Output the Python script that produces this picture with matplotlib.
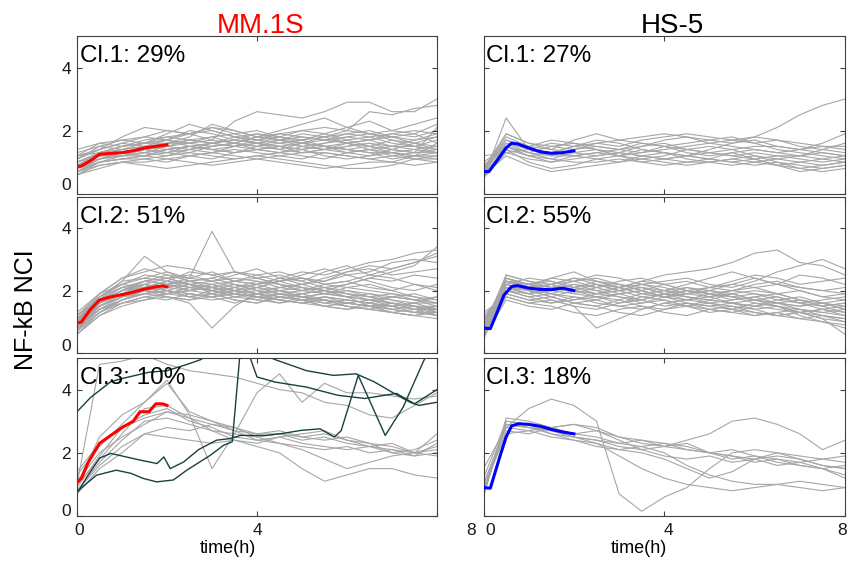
import matplotlib.pyplot as plt
import matplotlib.transforms as mtransforms

plt.rcParams['font.family'] = ['Liberation Sans', 'DejaVu Sans']

# tempo (h) das trajetórias de células individuais
t = [0, 0.5, 1, 1.5, 2, 2.5, 3, 3.5, 4, 4.5, 5, 5.5, 6, 6.5, 7, 7.5, 8]

cell_lines = ['MM.1S', 'HS-5']
mm_pct = ['29%', '51%', '10%']
hs_pct = ['27%', '55%', '18%']

# MM.1S cluster 1
mm_cl1 = [
    [0.8, 1.1, 1.2, 1.3, 1.4, 1.5, 1.6, 1.5, 1.4, 1.5, 1.6, 1.5, 1.4, 1.3, 1.3, 1.2, 1.2],
    [0.7, 1.0, 1.1, 1.2, 1.3, 1.2, 1.3, 1.4, 1.3, 1.2, 1.3, 1.3, 1.2, 1.1, 1.2, 1.1, 1.1],
    [1.4, 1.6, 1.5, 1.7, 1.8, 1.7, 1.6, 1.8, 1.9, 1.7, 1.6, 1.7, 1.8, 1.9, 1.7, 1.6, 1.8],
    [0.9, 1.2, 1.4, 1.5, 1.7, 1.9, 2.0, 1.8, 1.7, 1.8, 2.0, 1.9, 1.7, 1.8, 1.9, 2.0, 1.9],
    [0.6, 0.8, 1.0, 1.0, 1.1, 1.0, 0.9, 1.0, 1.1, 1.0, 0.9, 0.8, 0.9, 1.0, 1.0, 0.9, 1.0],
    [1.0, 1.3, 1.5, 1.6, 1.6, 1.8, 2.2, 2.0, 1.8, 1.7, 1.6, 1.5, 1.6, 1.7, 1.5, 1.4, 1.5],
    [0.8, 1.1, 1.3, 1.5, 1.6, 1.6, 1.7, 2.3, 2.6, 2.5, 2.4, 2.6, 2.9, 2.9, 2.6, 2.6, 3.0],
    [1.2, 1.4, 1.6, 1.5, 1.4, 1.5, 1.6, 1.7, 1.6, 1.4, 1.3, 1.4, 1.5, 1.6, 1.5, 1.5, 1.4],
    [0.7, 0.9, 1.0, 0.9, 0.8, 0.9, 1.0, 1.1, 1.2, 1.1, 1.0, 0.9, 0.8, 0.8, 0.9, 1.1, 1.2],
    [1.1, 1.5, 1.7, 1.8, 2.0, 1.9, 1.7, 1.6, 1.8, 2.0, 2.2, 2.4, 2.1, 1.9, 2.0, 2.2, 2.4],
    [0.9, 1.2, 1.2, 1.3, 1.2, 1.4, 1.5, 1.6, 1.5, 1.7, 1.8, 1.7, 1.6, 1.5, 1.4, 1.3, 1.3],
    [1.3, 1.5, 1.4, 1.6, 1.7, 1.5, 1.4, 1.5, 1.7, 1.9, 2.0, 2.1, 2.0, 2.6, 2.5, 2.7, 2.8],
    [0.8, 1.0, 1.1, 1.1, 1.2, 1.3, 1.2, 1.1, 1.2, 1.3, 1.4, 1.2, 1.1, 1.2, 1.4, 1.6, 1.4],
    [1.0, 1.3, 1.4, 1.5, 1.5, 1.6, 1.8, 1.9, 1.7, 1.6, 1.7, 1.8, 1.9, 1.8, 1.6, 1.5, 1.7],
    [0.6, 0.9, 1.0, 1.1, 1.0, 1.2, 1.3, 1.2, 1.1, 1.2, 1.1, 1.3, 1.2, 1.1, 1.0, 1.2, 1.1],
    [1.1, 1.4, 1.8, 2.1, 2.0, 1.9, 2.1, 2.0, 1.8, 1.9, 1.8, 1.7, 1.9, 2.0, 1.8, 1.7, 1.9],
    [0.9, 1.1, 1.3, 1.4, 1.3, 1.5, 1.4, 1.3, 1.5, 1.6, 1.5, 1.6, 1.7, 1.5, 1.3, 1.2, 1.6],
    [0.7, 1.0, 1.2, 1.2, 1.4, 1.3, 1.5, 1.6, 1.4, 1.3, 1.5, 1.4, 1.3, 1.4, 1.2, 1.3, 2.1],
    [1.2, 1.3, 1.5, 1.6, 1.9, 2.2, 2.0, 1.8, 1.6, 1.5, 1.4, 1.6, 1.8, 1.7, 1.8, 1.9, 1.6],
    [0.8, 1.2, 1.3, 1.4, 1.6, 1.7, 1.6, 1.5, 1.6, 1.8, 1.7, 1.5, 1.4, 1.5, 1.7, 1.5, 1.3],
    [0.9, 1.3, 1.5, 1.6, 1.7, 1.6, 1.5, 1.6, 1.8, 1.7, 1.5, 1.4, 1.5, 1.6, 1.4, 1.3, 1.4],
    [0.7, 1.1, 1.3, 1.4, 1.3, 1.4, 1.6, 1.7, 1.9, 1.8, 1.6, 1.5, 1.3, 1.2, 1.3, 1.4, 1.3],
    [1.0, 1.2, 1.4, 1.3, 1.5, 1.7, 1.8, 1.6, 1.5, 1.4, 1.6, 1.8, 2.0, 1.9, 1.8, 1.6, 1.5],
    [0.6, 1.0, 1.1, 1.2, 1.1, 1.2, 1.1, 1.3, 1.4, 1.3, 1.2, 1.1, 1.3, 1.4, 1.3, 1.1, 1.0],
    [1.1, 1.4, 1.6, 1.8, 1.7, 2.0, 1.9, 1.7, 1.6, 1.7, 1.9, 1.8, 1.6, 1.7, 1.9, 1.8, 2.0],
    [0.8, 1.2, 1.3, 1.2, 1.4, 1.5, 1.4, 1.3, 1.4, 1.5, 1.3, 1.4, 1.6, 1.4, 1.5, 1.7, 1.8],
    [0.9, 1.1, 1.2, 1.4, 1.5, 1.4, 1.3, 1.5, 1.6, 1.5, 1.4, 1.5, 1.4, 1.3, 1.1, 1.2, 1.3],
    [1.2, 1.6, 1.7, 1.6, 1.8, 1.9, 2.1, 1.9, 2.0, 1.8, 1.7, 1.9, 2.1, 2.3, 2.0, 1.9, 2.2],
]

# MM.1S cluster 2
mm_cl2 = [
    [0.9, 1.6, 1.9, 2.1, 2.0, 2.2, 2.1, 2.0, 1.9, 2.0, 1.8, 1.7, 1.6, 1.5, 1.6, 1.4, 1.5],
    [0.7, 1.4, 1.7, 1.9, 2.0, 1.9, 1.8, 1.9, 2.0, 1.8, 1.7, 1.8, 1.7, 1.6, 1.5, 1.6, 1.4],
    [1.1, 1.8, 2.2, 2.4, 2.3, 2.6, 2.5, 2.3, 2.2, 2.4, 2.6, 2.5, 2.7, 2.9, 3.0, 3.2, 3.3],
    [0.8, 1.5, 1.8, 2.0, 2.2, 2.0, 2.1, 2.2, 2.0, 1.9, 2.0, 1.9, 1.8, 1.7, 1.6, 1.5, 1.3],
    [1.0, 1.7, 2.0, 2.3, 2.5, 2.4, 3.9, 2.6, 2.5, 2.3, 2.4, 2.2, 2.1, 2.0, 1.9, 1.8, 1.7],
    [0.6, 1.2, 1.5, 1.7, 1.8, 1.6, 0.8, 1.5, 1.9, 1.8, 1.7, 1.6, 1.5, 1.4, 1.3, 1.2, 1.1],
    [1.2, 1.9, 2.4, 2.6, 2.8, 2.7, 2.5, 2.6, 2.4, 2.5, 2.3, 2.6, 2.8, 2.5, 2.7, 2.9, 3.1],
    [0.9, 1.6, 2.0, 2.2, 2.1, 2.0, 1.9, 2.1, 2.2, 2.0, 1.8, 1.9, 2.0, 1.8, 1.7, 1.6, 1.6],
    [0.8, 1.4, 1.6, 1.8, 1.9, 2.1, 2.0, 1.8, 1.7, 1.9, 1.8, 1.6, 1.7, 1.6, 1.4, 1.3, 1.2],
    [1.0, 1.7, 2.3, 3.1, 2.6, 2.4, 2.3, 2.5, 2.7, 2.4, 2.2, 2.3, 2.5, 2.3, 2.1, 2.0, 2.2],
    [0.7, 1.3, 1.7, 1.9, 1.8, 1.7, 1.8, 1.9, 1.8, 1.7, 1.9, 2.0, 1.8, 1.5, 1.4, 1.5, 1.3],
    [1.1, 1.8, 2.1, 2.0, 2.2, 2.3, 2.1, 2.0, 2.2, 2.4, 2.3, 2.1, 2.2, 2.4, 2.6, 2.8, 3.4],
    [0.9, 1.5, 1.9, 2.1, 2.3, 2.2, 2.0, 1.9, 1.8, 1.7, 1.6, 1.7, 1.6, 1.5, 1.5, 1.4, 1.4],
    [1.3, 1.9, 2.2, 2.5, 2.4, 2.2, 2.3, 2.4, 2.3, 2.1, 2.0, 2.1, 1.9, 1.8, 1.9, 1.7, 1.8],
    [0.8, 1.6, 2.0, 2.2, 2.0, 1.8, 1.9, 1.7, 1.6, 1.8, 1.7, 1.5, 1.4, 1.6, 1.5, 1.3, 1.5],
    [1.0, 1.5, 1.8, 2.0, 2.1, 2.3, 2.4, 2.2, 2.0, 2.1, 2.2, 2.0, 1.9, 1.7, 1.8, 1.9, 1.7],
    [0.7, 1.3, 1.6, 1.7, 1.9, 2.0, 2.2, 2.0, 2.1, 2.3, 2.5, 2.7, 2.5, 2.6, 2.9, 3.0, 2.9],
    [1.2, 1.7, 2.1, 2.3, 2.2, 2.1, 2.0, 2.2, 2.1, 1.9, 1.8, 1.9, 2.1, 2.2, 2.0, 1.8, 1.6],
    [0.9, 1.4, 1.7, 1.9, 2.0, 1.8, 1.7, 1.8, 1.9, 1.7, 1.6, 1.5, 1.6, 1.5, 1.3, 1.2, 1.4],
    [1.1, 1.6, 1.9, 2.2, 2.4, 2.5, 2.3, 2.1, 2.3, 2.2, 2.0, 2.2, 2.3, 2.1, 2.0, 2.2, 2.0],
    [0.8, 1.5, 1.8, 2.1, 1.9, 2.0, 2.1, 1.9, 1.7, 1.6, 1.8, 1.7, 1.5, 1.4, 1.6, 1.5, 1.2],
    [1.0, 1.8, 2.3, 2.4, 2.6, 2.3, 2.2, 2.3, 2.5, 2.6, 2.4, 2.3, 2.6, 2.7, 2.5, 2.6, 2.7],
    [0.6, 1.2, 1.6, 1.8, 1.7, 1.9, 1.8, 1.6, 1.8, 1.9, 1.7, 1.8, 1.6, 1.7, 1.5, 1.6, 1.8],
    [1.0, 1.6, 2.0, 2.1, 2.3, 2.1, 2.2, 2.0, 1.9, 2.0, 2.1, 1.9, 1.8, 1.9, 1.7, 1.5, 1.5],
    [0.9, 1.7, 2.1, 2.3, 2.2, 2.4, 2.6, 2.3, 2.4, 2.2, 2.1, 2.0, 1.8, 1.7, 1.6, 1.5, 1.4],
    [0.7, 1.5, 1.9, 2.1, 2.2, 2.0, 2.1, 1.9, 1.8, 1.9, 1.8, 1.7, 1.6, 1.5, 1.4, 1.3, 1.3],
    [1.1, 1.6, 1.9, 2.0, 1.9, 2.1, 2.0, 1.8, 1.9, 2.1, 2.2, 2.4, 2.6, 2.8, 2.7, 2.9, 3.2],
    [0.8, 1.4, 1.8, 1.9, 2.1, 2.2, 1.9, 1.7, 1.6, 1.8, 1.9, 1.7, 1.5, 1.4, 1.3, 1.4, 1.2],
    [1.0, 1.9, 2.4, 2.7, 2.5, 2.3, 2.4, 2.6, 2.4, 2.2, 2.0, 2.1, 2.0, 1.9, 1.8, 1.7, 1.6],
    [0.6, 1.3, 1.7, 2.0, 1.8, 1.7, 1.9, 2.0, 1.8, 1.6, 1.7, 1.5, 1.4, 1.5, 1.3, 1.2, 1.3],
    [1.2, 1.8, 2.2, 2.1, 2.3, 2.2, 2.1, 2.3, 2.2, 2.3, 2.4, 2.2, 2.3, 2.5, 2.4, 2.2, 2.1],
    [0.9, 1.5, 1.8, 2.0, 1.9, 1.8, 2.0, 2.1, 1.9, 1.7, 1.6, 1.8, 1.7, 1.6, 1.8, 1.7, 1.5],
    [0.7, 1.6, 2.0, 2.3, 2.4, 2.2, 2.0, 1.9, 2.1, 2.0, 1.9, 2.0, 1.9, 1.8, 1.6, 1.4, 1.4],
    [1.0, 1.7, 2.1, 2.2, 2.0, 1.9, 1.8, 2.0, 2.1, 2.3, 2.1, 2.0, 2.2, 2.4, 2.3, 2.5, 2.4],
]

# MM.1S cluster 3 (cinza)
mm_cl3 = [
    [1.0, 2.5, 3.2, 3.6, 4.3, 3.2, 1.5, 2.6, 3.9, 4.5, 3.6, 4.2, 3.9, 3.9, 3.8, 3.7, 3.8],
    [1.0, 4.8, 4.9, 5.1, 4.8, 4.6, 4.5, 4.4, 4.2, 4.0, 3.9, 3.6, 3.5, 3.2, 3.1, 3.5, 3.9],
    [0.8, 1.7, 2.4, 3.0, 3.1, 2.9, 2.7, 2.6, 2.5, 2.6, 2.4, 2.5, 2.3, 2.2, 2.1, 2.0, 2.1],
    [0.9, 1.9, 2.8, 3.2, 3.4, 3.0, 2.8, 2.5, 2.4, 2.5, 2.3, 2.2, 2.1, 2.2, 2.0, 1.9, 2.0],
    [1.3, 2.2, 2.9, 3.6, 4.2, 3.3, 3.0, 2.7, 2.4, 2.3, 2.2, 2.1, 2.2, 2.0, 2.1, 1.9, 2.3],
    [0.7, 1.5, 2.0, 2.6, 2.8, 2.7, 2.9, 2.8, 2.6, 2.7, 2.5, 2.6, 2.4, 2.2, 2.3, 2.0, 1.9],
    [1.1, 2.0, 2.5, 2.9, 3.3, 3.2, 3.0, 2.8, 2.5, 2.3, 2.1, 1.8, 1.5, 1.7, 1.9, 2.0, 2.6],
    [0.8, 1.6, 2.2, 2.6, 2.5, 2.4, 2.3, 2.4, 2.2, 2.0, 1.5, 1.1, 1.3, 1.5, 1.5, 1.3, 1.2],
    [1.4, 2.3, 2.8, 3.1, 3.3, 3.1, 2.7, 2.4, 2.3, 2.5, 2.6, 2.7, 2.4, 2.3, 2.2, 2.0, 2.2],
    [1.0, 1.8, 2.6, 3.4, 3.5, 3.1, 2.9, 2.7, 2.6, 2.6, 2.5, 2.4, 2.5, 2.3, 2.0, 2.1, 2.4],
]

# MM.1S cluster 3 (trajetórias escuras)
dark_t1 = [0, 0.3, 0.75, 1.0, 1.6, 2.0, 2.45, 2.75, 3.0, 3.5, 4.0, 4.4, 5.1, 5.7, 6.2, 6.6, 7.0, 7.4, 7.6, 8.0]
dark_y1 = [3.3, 3.75, 4.25, 4.35, 4.55, 4.6, 4.8, 4.95, 5.2, 5.4, 5.2, 4.95, 4.6, 4.45, 4.5, 4.25, 3.92, 3.6, 3.5, 3.6]
dark_t2 = [0, 0.25, 0.5, 0.75, 1.0, 1.4, 1.78, 1.93, 2.07, 2.37, 2.7, 3.1, 3.4, 3.64, 4.2, 4.6, 4.98, 5.4, 5.72,
           5.87, 6.25, 6.85, 7.25, 7.7, 7.85, 8.0]
dark_y2 = [0.72, 1.3, 1.83, 1.98, 1.9, 1.77, 1.66, 1.87, 1.5, 1.71, 2.1, 2.4, 2.45, 2.55, 2.55, 2.62, 2.71, 2.76,
           2.5, 2.7, 4.45, 2.55, 3.45, 4.9, 5.3, 5.6]
dark_t3 = [0, 0.43, 0.87, 1.2, 1.47, 1.77, 2.14, 2.44, 2.96, 3.26, 3.45, 3.62, 3.8, 4.0, 4.4, 5.1, 5.8, 6.4, 7.1,
           7.5, 8.0]
dark_y3 = [0.77, 1.29, 1.45, 1.35, 1.19, 1.08, 1.14, 1.45, 1.92, 2.24, 2.35, 5.1, 5.2, 4.4, 4.24, 4.08, 3.82,
           3.72, 3.88, 3.55, 4.0]

# HS-5 cluster 1
hs_cl1 = [
    [0.6, 1.5, 1.2, 1.0, 1.1, 1.2, 1.3, 1.2, 1.1, 1.0, 1.0, 1.1, 1.0, 0.9, 1.0, 1.1, 1.0],
    [0.5, 2.4, 1.4, 1.3, 1.5, 1.6, 1.7, 1.8, 1.9, 1.8, 1.7, 1.6, 1.8, 2.1, 2.5, 2.8, 3.0],
    [0.7, 1.9, 1.6, 1.5, 1.4, 1.6, 1.5, 1.7, 1.8, 1.9, 1.8, 1.7, 1.6, 1.7, 1.5, 1.4, 1.3],
    [0.8, 1.7, 1.5, 1.7, 1.6, 1.5, 1.4, 1.3, 1.4, 1.5, 1.6, 1.7, 1.8, 1.7, 1.6, 1.5, 1.5],
    [0.6, 1.4, 1.0, 0.8, 0.9, 1.1, 1.2, 1.4, 1.3, 1.2, 1.1, 1.3, 1.1, 0.9, 0.7, 0.8, 0.9],
    [1.2, 1.3, 1.4, 1.3, 1.5, 1.4, 1.2, 1.3, 1.5, 1.4, 1.3, 1.2, 1.1, 1.2, 1.1, 1.0, 1.1],
    [0.5, 1.6, 1.3, 1.1, 1.0, 1.0, 1.1, 1.0, 0.9, 1.0, 1.1, 1.0, 0.9, 1.0, 0.9, 0.8, 0.9],
    [0.7, 1.8, 1.5, 1.4, 1.7, 1.9, 1.7, 1.6, 1.5, 1.6, 1.7, 1.8, 1.6, 1.4, 1.3, 1.2, 1.1],
    [0.9, 1.5, 1.3, 1.2, 1.2, 1.3, 1.4, 1.5, 1.6, 1.4, 1.3, 1.4, 1.5, 1.5, 1.4, 1.6, 1.9],
    [0.6, 1.2, 0.9, 0.7, 0.8, 0.9, 1.0, 1.1, 1.0, 0.9, 1.0, 0.9, 1.0, 1.1, 1.0, 0.9, 1.0],
    [0.8, 1.9, 1.6, 1.4, 1.3, 1.2, 1.3, 1.5, 1.7, 1.8, 1.6, 1.5, 1.4, 1.3, 1.4, 1.3, 1.2],
    [0.5, 1.4, 1.2, 1.3, 1.2, 1.1, 1.0, 1.2, 1.3, 1.1, 1.0, 1.1, 1.2, 1.0, 0.8, 0.7, 0.8],
    [0.7, 1.6, 1.4, 1.6, 1.5, 1.7, 1.6, 1.4, 1.3, 1.2, 1.4, 1.6, 1.7, 1.5, 1.4, 1.5, 1.4],
    [1.0, 1.5, 1.2, 1.1, 1.3, 1.4, 1.3, 1.2, 1.1, 1.2, 1.3, 1.2, 1.3, 1.2, 1.2, 1.1, 1.2],
    [0.6, 1.7, 1.4, 1.2, 1.4, 1.5, 1.4, 1.6, 1.5, 1.3, 1.2, 1.3, 1.4, 1.3, 1.2, 1.3, 1.2],
    [0.8, 1.5, 1.3, 1.5, 1.6, 1.4, 1.2, 1.1, 1.2, 1.4, 1.5, 1.4, 1.2, 1.1, 1.2, 1.4, 1.6],
    [0.5, 1.3, 1.1, 1.0, 1.2, 1.3, 1.2, 1.0, 1.1, 1.2, 1.1, 1.0, 1.1, 0.9, 0.8, 0.9, 1.0],
]

# HS-5 cluster 2
hs_cl2 = [
    [0.7, 2.2, 2.0, 2.1, 2.0, 1.9, 2.0, 1.8, 1.9, 1.7, 1.8, 1.6, 1.7, 1.5, 1.4, 1.3, 1.4],
    [0.5, 2.4, 2.2, 2.3, 2.1, 2.2, 2.0, 2.1, 1.9, 2.0, 1.8, 1.9, 1.7, 1.6, 1.5, 1.6, 1.4],
    [0.9, 2.0, 1.8, 1.6, 1.7, 1.9, 2.1, 2.3, 2.5, 2.6, 2.7, 2.9, 3.2, 3.3, 2.9, 2.8, 2.5],
    [0.6, 2.3, 2.1, 2.4, 2.6, 2.3, 2.2, 2.0, 1.8, 1.9, 2.0, 1.8, 1.7, 1.8, 1.6, 1.5, 1.6],
    [1.3, 1.8, 1.6, 1.5, 1.3, 1.2, 1.4, 1.5, 1.3, 1.2, 1.4, 1.3, 1.2, 1.3, 1.1, 1.2, 1.0],
    [0.8, 2.1, 1.9, 1.7, 1.5, 0.8, 1.1, 1.4, 1.6, 1.5, 1.7, 1.6, 1.5, 1.4, 1.3, 1.2, 1.1],
    [0.4, 2.5, 2.3, 2.2, 2.4, 2.3, 2.1, 1.9, 2.0, 2.1, 1.9, 2.0, 2.2, 2.3, 2.1, 2.0, 1.9],
    [1.0, 2.0, 2.2, 2.4, 2.3, 2.5, 2.4, 2.2, 2.3, 2.4, 2.2, 2.1, 2.3, 2.6, 2.8, 3.0, 2.7],
    [0.7, 1.9, 1.7, 1.8, 1.6, 1.7, 1.5, 1.6, 1.7, 1.5, 1.4, 1.5, 1.3, 1.2, 1.1, 1.0, 0.9],
    [0.6, 2.3, 2.0, 1.9, 2.1, 2.0, 1.8, 1.7, 1.9, 1.8, 1.6, 1.7, 1.8, 1.6, 1.7, 1.5, 1.3],
    [1.1, 2.1, 1.9, 2.0, 2.2, 2.1, 2.3, 2.4, 2.2, 2.0, 2.1, 2.3, 2.5, 2.4, 2.2, 2.3, 2.4],
    [0.5, 1.7, 1.5, 1.4, 1.6, 1.5, 1.3, 1.2, 1.4, 1.6, 1.5, 1.4, 1.2, 1.3, 1.4, 1.2, 1.1],
    [0.8, 2.4, 2.2, 2.0, 1.9, 2.1, 2.2, 2.0, 1.8, 1.7, 1.9, 1.8, 1.6, 1.5, 1.3, 1.1, 0.6],
    [0.6, 2.2, 2.4, 2.3, 2.1, 1.9, 2.0, 2.2, 2.1, 1.9, 1.8, 2.0, 1.9, 1.7, 1.8, 1.6, 1.7],
    [0.9, 2.0, 1.8, 1.9, 1.7, 1.8, 1.9, 1.7, 1.5, 1.6, 1.4, 1.3, 1.5, 1.6, 1.4, 1.3, 1.2],
    [0.7, 2.3, 2.1, 2.2, 2.3, 2.4, 2.2, 2.1, 2.0, 2.2, 2.4, 2.6, 2.4, 2.2, 2.5, 2.4, 2.2],
    [1.2, 1.9, 1.7, 1.6, 1.8, 1.6, 1.5, 1.4, 1.6, 1.7, 1.6, 1.5, 1.4, 1.2, 1.3, 1.4, 1.5],
    [0.5, 2.1, 1.9, 2.1, 2.0, 1.8, 1.7, 1.9, 2.0, 1.8, 1.7, 1.6, 1.5, 1.7, 1.6, 1.4, 1.3],
    [0.8, 2.5, 2.3, 2.1, 2.0, 2.2, 2.1, 2.3, 2.2, 2.0, 1.9, 1.8, 1.9, 1.8, 1.6, 1.7, 1.8],
    [0.6, 1.8, 1.6, 1.7, 1.5, 1.4, 1.6, 1.8, 1.7, 1.5, 1.3, 1.4, 1.6, 1.5, 1.2, 1.0, 0.8],
    [1.0, 2.2, 2.0, 1.8, 2.0, 1.9, 1.8, 1.6, 1.8, 1.9, 2.0, 1.9, 1.7, 1.6, 1.5, 1.6, 1.4],
    [0.7, 2.0, 2.1, 2.2, 2.4, 2.2, 2.0, 2.1, 1.9, 1.8, 1.7, 1.9, 2.0, 1.9, 1.7, 1.5, 1.6],
    [0.6, 2.3, 2.2, 2.0, 2.1, 2.3, 2.1, 1.9, 1.8, 2.0, 1.9, 1.7, 1.8, 1.9, 1.7, 1.6, 1.5],
    [0.9, 2.1, 2.0, 2.2, 1.9, 1.8, 1.6, 1.7, 1.9, 2.1, 2.0, 2.2, 2.1, 1.9, 2.0, 1.8, 1.7],
    [0.5, 2.4, 2.1, 1.9, 1.8, 1.7, 1.9, 2.0, 1.8, 1.6, 1.5, 1.6, 1.4, 1.5, 1.3, 1.4, 1.2],
    [0.8, 2.0, 1.9, 2.1, 2.3, 2.1, 1.9, 2.0, 2.2, 2.3, 2.1, 2.0, 2.1, 2.2, 2.0, 1.8, 1.9],
    [0.7, 2.2, 2.0, 1.8, 1.6, 1.5, 1.7, 1.5, 1.4, 1.5, 1.6, 1.4, 1.3, 1.2, 1.3, 1.1, 1.0],
    [1.0, 2.3, 2.2, 2.1, 2.2, 2.0, 2.1, 2.2, 2.0, 1.9, 2.1, 2.2, 2.4, 2.2, 2.1, 2.0, 2.1],
]

# HS-5 cluster 3
hs_cl3 = [
    [1.0, 2.8, 3.4, 3.7, 3.5, 3.0, 0.7, 0.15, 0.6, 0.9, 1.5, 2.0, 2.1, 2.0, 1.8, 1.6, 1.5],
    [0.8, 3.0, 2.9, 2.7, 2.5, 2.4, 2.2, 2.1, 2.2, 2.3, 2.0, 1.9, 1.7, 1.8, 1.6, 1.5, 1.3],
    [0.7, 2.9, 2.8, 2.6, 2.4, 2.3, 1.9, 1.5, 1.2, 1.0, 0.9, 0.8, 0.9, 1.0, 0.9, 0.8, 0.9],
    [1.5, 2.8, 2.7, 2.8, 2.9, 2.8, 2.5, 2.3, 2.2, 2.4, 2.6, 3.0, 3.1, 2.9, 2.6, 2.1, 2.4],
    [0.6, 3.1, 3.0, 2.8, 2.6, 2.5, 2.3, 2.2, 2.3, 2.2, 2.0, 1.9, 1.8, 1.6, 1.7, 1.5, 1.2],
    [0.9, 2.6, 2.7, 2.5, 2.4, 2.2, 2.1, 2.2, 2.0, 1.6, 1.3, 1.1, 1.0, 1.0, 1.1, 1.0, 0.9],
    [0.7, 2.9, 2.8, 2.7, 2.5, 2.3, 2.1, 2.0, 1.8, 1.5, 1.2, 1.4, 1.8, 2.0, 1.9, 1.8, 1.9],
    [1.2, 3.0, 2.9, 2.6, 2.5, 2.4, 2.3, 2.4, 2.3, 2.1, 2.0, 1.8, 1.9, 1.7, 1.6, 1.5, 1.6],
    [0.8, 2.7, 2.6, 2.8, 2.9, 2.7, 2.4, 2.1, 1.9, 1.8, 1.9, 1.7, 1.8, 1.9, 1.8, 1.6, 1.5],
    [1.0, 2.9, 2.8, 2.7, 2.6, 2.7, 2.5, 2.4, 2.2, 2.1, 2.0, 2.1, 1.9, 1.8, 1.7, 1.8, 1.7],
]

# médias (primeiras 2 h)
mm_mean_t = [
    [0, 0.1, 0.3, 0.5, 0.75, 1.0, 1.25, 1.5, 1.75, 2.0],
    [0, 0.1, 0.3, 0.5, 0.75, 1.0, 1.25, 1.5, 1.75, 1.9, 2.0],
    [0, 0.1, 0.25, 0.5, 0.75, 1.0, 1.25, 1.4, 1.6, 1.75, 1.9, 2.0],
]
mm_mean = [
    [0.85, 0.88, 1.05, 1.25, 1.28, 1.3, 1.36, 1.45, 1.5, 1.55],
    [0.95, 1.0, 1.4, 1.7, 1.8, 1.87, 1.95, 2.05, 2.12, 2.15, 2.12],
    [1.05, 1.2, 1.7, 2.3, 2.55, 2.8, 3.0, 3.3, 3.3, 3.55, 3.55, 3.5],
]
hs_mean_t = [
    [0, 0.12, 0.3, 0.5, 0.62, 0.75, 1.0, 1.25, 1.5, 1.75, 2.0],
    [0, 0.15, 0.3, 0.45, 0.62, 0.75, 1.0, 1.25, 1.5, 1.75, 2.0],
    [0, 0.15, 0.37, 0.5, 0.62, 0.77, 1.0, 1.26, 1.5, 1.75, 2.0],
]
hs_mean = [
    [0.7, 0.7, 1.05, 1.45, 1.6, 1.58, 1.45, 1.33, 1.28, 1.3, 1.36],
    [0.8, 0.78, 1.3, 1.85, 2.13, 2.16, 2.08, 2.04, 2.03, 2.08, 2.0],
    [0.9, 0.88, 1.92, 2.5, 2.85, 2.92, 2.9, 2.84, 2.74, 2.66, 2.6],
]

gray = '#a6a6a6'
dark = '#17413f'
edge = '#404040'

fig = plt.figure(figsize=(8.51, 5.64), dpi=100)
col_left = [0.0905, 0.5682]
col_width = [0.423, 0.4248]
row_bottom = [0.6566, 0.3741, 0.0851]
row_height = [0.2796, 0.2766, 0.2801]
zero_shift = [10, 8, 6]           # px, o "0" do eixo y fica um pouco acima
xlab_shift = [[2, 0, 34], [7, 4, -3]]

all_traces = [[mm_cl1, mm_cl2, mm_cl3], [hs_cl1, hs_cl2, hs_cl3]]
all_mean_t = [mm_mean_t, hs_mean_t]
all_mean = [mm_mean, hs_mean]
all_pct = [mm_pct, hs_pct]
mean_colors = ['#ff0000', '#0000ff']

for c in range(2):
    for r in range(3):
        ax = fig.add_axes([col_left[c], row_bottom[r], col_width[c], row_height[r]])
        for y in all_traces[c][r]:
            ax.plot(t, y, color=gray, lw=0.8, zorder=1)
        if c == 0 and r == 2:
            for tt, yy in [(dark_t1, dark_y1), (dark_t2, dark_y2), (dark_t3, dark_y3)]:
                ax.plot(tt, yy, color=dark, lw=1.0, zorder=2)
        ax.plot(all_mean_t[c][r], all_mean[c][r], color=mean_colors[c], lw=2.2, zorder=3)
        ax.text(0.008, 0.945, 'Cl.%d: %s' % (r + 1, all_pct[c][r]), transform=ax.transAxes,
                ha='left', va='top', fontsize=17.5, color='black', zorder=4)

        ax.set_xlim(0, 8)
        ax.set_ylim(0, 5)
        ax.set_xticks([0, 4, 8])
        ax.set_yticks([0, 2, 4])
        ax.tick_params(direction='in', top=True, right=True, length=3.5, width=0.8,
                       color=edge, labelcolor='#1a1a1a', labelsize=12.5)
        ax.tick_params(axis='y', pad=4.5)
        ax.tick_params(axis='x', pad=5)
        for s in ax.spines.values():
            s.set_color(edge)
            s.set_linewidth(0.8)

        if r < 2:
            ax.set_xticklabels([])
        else:
            ax.set_xticklabels(['0', '4', '8'])
            for k, tick in enumerate(ax.xaxis.get_major_ticks()):
                off = mtransforms.ScaledTranslation(xlab_shift[c][k] / 100, 0, fig.dpi_scale_trans)
                tick.label1.set_transform(tick.label1.get_transform() + off)
            ax.set_xlabel('time(h)', fontsize=13)
            ax.xaxis.set_label_coords(0.42 if c == 0 else 0.43, -0.15)
        if c == 1:
            ax.set_yticklabels([])
        else:
            ax.set_yticklabels(['0', '2', '4'])
            tick = ax.yaxis.get_major_ticks()[0]
            off = mtransforms.ScaledTranslation(0, zero_shift[r] / 100, fig.dpi_scale_trans)
            tick.label1.set_transform(tick.label1.get_transform() + off)

        if r == 0:
            ax.text(0.511 if c == 0 else 0.521, 1.017, cell_lines[c], transform=ax.transAxes,
                    ha='center', va='baseline', fontsize=20,
                    color='#ff0000' if c == 0 else 'black')

fig.text(0.031, 1 - 310 / 564, 'NF-kB NCI', rotation=90, ha='center', va='center', fontsize=18)

fig.savefig('out.png', dpi=100)
